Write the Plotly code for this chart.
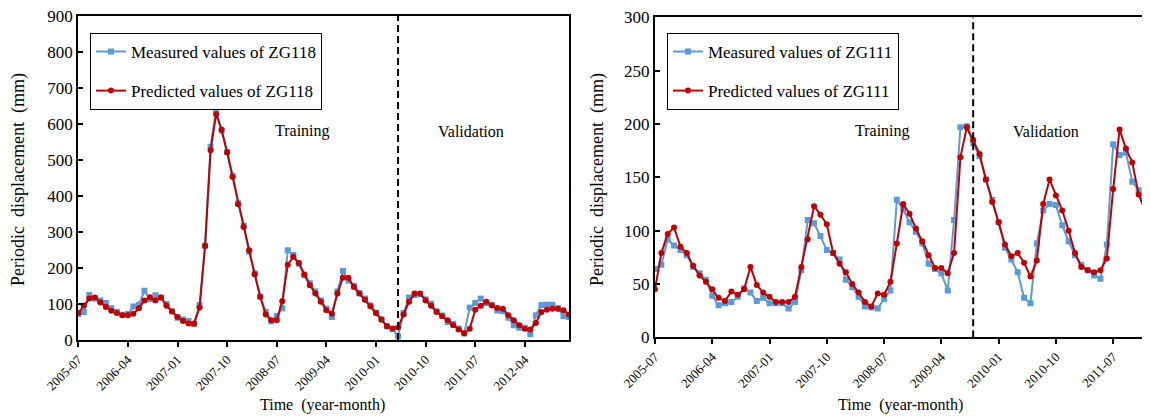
import pandas as pd
import plotly.graph_objects as go

# ZG118: monthly, 2005-07 .. 2012-12
months_zg118 = pd.date_range("2005-07-01", periods=90, freq="MS").strftime("%Y-%m").tolist()
measured_zg118 = [
    72, 78, 125, 115, 110, 103, 88, 78, 70, 72,
    93, 98, 137, 113, 124, 118, 100, 80, 62, 57,
    53, 44, 97, 262, 537, 640, 582, 522, 456, 380,
    318, 245, 185, 120, 78, 52, 67, 88, 249, 236,
    212, 180, 158, 135, 110, 87, 64, 135, 192, 165,
    150, 130, 115, 96, 76, 57, 38, 30, 10, 75,
    118, 125, 127, 113, 101, 80, 68, 50, 45, 32,
    18, 90, 103, 115, 103, 98, 82, 80, 62, 41,
    34, 34, 16, 69, 97, 98, 98, 88, 66, 64,
]
predicted_zg118 = [
    75, 96, 115, 118, 104, 92, 81, 75, 69, 69,
    73, 88, 110, 119, 110, 118, 95, 79, 64, 53,
    46, 46, 90, 261, 527, 627, 584, 521, 453, 377,
    314, 249, 183, 120, 71, 55, 55, 108, 209, 231,
    214, 182, 152, 129, 106, 83, 73, 129, 173, 173,
    147, 129, 112, 94, 75, 57, 38, 32, 35, 71,
    106, 129, 129, 110, 95, 78, 66, 55, 41, 29,
    19, 31, 84, 95, 106, 96, 89, 87, 69, 55,
    41, 31, 29, 47, 78, 84, 87, 87, 83, 71,
]
split_zg118 = 58  # first validation month index

# ZG111: monthly, 2005-07 .. 2011-12
months_zg111 = pd.date_range("2005-07-01", periods=78, freq="MS").strftime("%Y-%m").tolist()
measured_zg111 = [
    64, 68, 92, 86, 82, 77, 66, 60, 54, 39,
    30, 32, 33, 38, 46, 42, 34, 37, 32, 32,
    32, 27, 33, 63, 110, 107, 95, 82, 79, 73,
    54, 47, 38, 29, 28, 27, 36, 44, 129, 120,
    108, 99, 88, 69, 64, 60, 44, 110, 197, 198,
    182, 170, 148, 129, 108, 84, 73, 61, 37, 32,
    88, 119, 125, 124, 105, 90, 77, 68, 63, 58,
    55, 87, 181, 171, 173, 146, 138, 119,
]
predicted_zg111 = [
    45, 79, 97, 103, 85, 79, 67, 58, 52, 45,
    37, 34, 43, 40, 45, 66, 49, 42, 38, 33,
    33, 33, 38, 66, 92, 123, 115, 106, 79, 69,
    61, 50, 42, 33, 29, 41, 40, 52, 88, 125,
    116, 102, 90, 77, 65, 65, 60, 79, 169, 197,
    185, 172, 148, 127, 108, 87, 76, 79, 70, 57,
    72, 125, 148, 133, 119, 100, 79, 66, 63, 61,
    63, 74, 139, 195, 177, 164, 134, 119,
]
split_zg111 = 50

BLUE = "#5B9BD5"
RED = "#C00000"
FONT = "Liberation Serif, Times New Roman, serif"

fig = go.Figure()


def add_pair(months, measured, predicted, name, xa, ya, legend):
    fig.add_trace(go.Scatter(
        x=months, y=measured, mode="lines+markers",
        name=f"Measured values of {name}",
        line=dict(color=BLUE, width=2),
        marker=dict(symbol="square", size=6, color=BLUE),
        xaxis=xa, yaxis=ya, legend=legend, legendgroup=f"{name}m",
    ))
    fig.add_trace(go.Scatter(
        x=months, y=predicted, mode="lines+markers",
        name=f"Predicted values of {name}",
        line=dict(color=RED, width=2),
        marker=dict(symbol="circle", size=6, color=RED),
        xaxis=xa, yaxis=ya, legend=legend, legendgroup=f"{name}p",
    ))


add_pair(months_zg118, measured_zg118, predicted_zg118, "ZG118", "x", "y", "legend")
add_pair(months_zg111, measured_zg111, predicted_zg111, "ZG111", "x2", "y2", "legend2")

axis_common = dict(
    showline=True, linecolor="black", linewidth=2, mirror=True,
    showgrid=False, zeroline=False, automargin=False, ticklabeloverflow="allow",
)
x_common = dict(axis_common, type="category", ticks="outside", ticklen=5,
                tickwidth=1.5, tickcolor="black", tickangle=-45,
                tickfont=dict(family=FONT, size=13, color="black"))
y_common = dict(axis_common, ticks="inside", ticklen=5, tickwidth=1.5,
                tickcolor="black", tickfont=dict(family=FONT, size=17, color="black"))
legend_common = dict(xanchor="left", yanchor="top", bordercolor="black",
                     borderwidth=1, bgcolor="white", font=dict(family=FONT, size=17),
                     tracegroupgap=14, itemwidth=30)

fig.update_layout(
    width=1150, height=416,
    margin=dict(l=0, r=0, t=0, b=0),
    paper_bgcolor="white", plot_bgcolor="white",
    font=dict(family=FONT, size=15, color="black"),
    showlegend=True,
    xaxis=dict(x_common, domain=[0.0611, 0.4878], range=[0, len(months_zg118) - 1],
               tickvals=months_zg118[::9], ticktext=months_zg118[::9], anchor="y"),
    yaxis=dict(y_common, domain=[0.2019, 0.9808], range=[0, 900], dtick=100, anchor="x"),
    xaxis2=dict(x_common, domain=[0.5626, 0.9887], range=[0, len(months_zg111) - 1],
                tickvals=months_zg111[::9], ticktext=months_zg111[::9], anchor="y2"),
    yaxis2=dict(y_common, domain=[0.2084, 0.9772], range=[0, 300], dtick=50, anchor="x2"),
    legend=dict(legend_common, x=0.0713, y=0.94),
    legend2=dict(legend_common, x=0.5730, y=0.94),
)

# training / validation split lines
for xref, yref, split in (("x", "y", split_zg118), ("x2", "y2", split_zg111)):
    fig.add_shape(type="line", xref=xref, yref=f"{yref} domain",
                  x0=split, x1=split, y0=0, y1=1,
                  line=dict(color="black", width=2, dash="7px,4px"))

labels = [
    ("x", "y", 40.6, 580, "Training"),
    ("x", "y", 71.3, 580, "Validation"),
    ("x2", "y2", 35.7, 193.5, "Training"),
    ("x2", "y2", 61.4, 193.5, "Validation"),
]
for xref, yref, xv, yv, text in labels:
    fig.add_annotation(x=xv, y=yv, xref=xref, yref=yref, text=text,
                       showarrow=False, font=dict(family=FONT, size=16, color="black"))

# axis titles
for xv in (0.2739, 0.7757):
    fig.add_annotation(x=xv, y=0.0457, xref="paper", yref="paper",
                       xanchor="center", yanchor="middle",
                       text="Time  (year-month)", showarrow=False,
                       font=dict(family=FONT, size=16, color="black"))
for xv in (0.0087, 0.5122):
    fig.add_annotation(x=xv, y=0.5865, xref="paper", yref="paper",
                       xanchor="center", yanchor="middle",
                       text="Periodic  displacement  (mm)", textangle=-90,
                       showarrow=False, font=dict(family=FONT, size=18, color="black"))

fig.write_html("out.html")
